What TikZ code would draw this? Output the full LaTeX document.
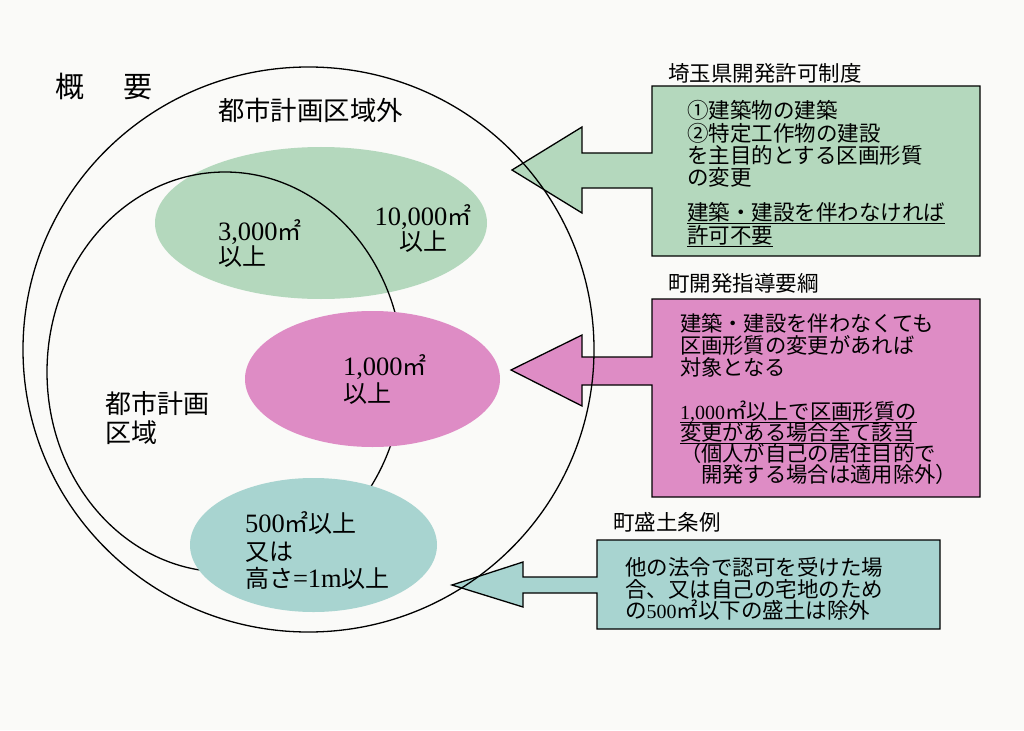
\documentclass[tikz,border=0pt]{standalone}
\usepackage{fontspec}
\setmainfont{Noto Sans CJK JP}
\newfontfamily\serifnum{Liberation Serif}
\usetikzlibrary{shapes.geometric}
\definecolor{bg}{RGB}{250,250,248}
\definecolor{lgreen}{RGB}{180,216,189}
\definecolor{lpink}{RGB}{222,140,197}
\definecolor{lteal}{RGB}{168,212,208}
\newcommand\nmL[1]{{\serifnum\fontsize{26.5}{26.5}\selectfont #1}}
\newcommand\nmB[1]{{\serifnum\fontsize{20}{20}\selectfont #1}}
\newcommand\fs[2]{\fontsize{#1}{#2}\selectfont\lineskiplimit=-100pt\relax}
\newsavebox\ulbox
\newcommand\ulc[1]{\sbox\ulbox{#1}\rlap{\rule[-3.2pt]{\wd\ulbox}{0.8pt}}\usebox\ulbox}
\begin{document}
\begin{tikzpicture}[x=1pt,y=-1pt,
  callout/.style={draw=black, line width=1.3pt, line join=miter},
  ring/.style={ellipse, draw=black, line width=1.3pt, inner sep=0, fill=none},
  blob/.style={ellipse, draw=none, inner sep=0},
  txt/.style={inner sep=0, outer sep=0, align=left, text=black},
]
\fill[bg] (0,0) rectangle (1024,730);
\useasboundingbox (0,0) rectangle (1024,730);

% callout boxes with block arrows
\draw[callout, fill=lgreen] (652,86) -- (980,86) -- (980,256) -- (652,256) -- (652,188) -- (582,188) -- (582,213) -- (512,170) -- (582,127) -- (582,153) -- (652,153) -- cycle;
\draw[callout, fill=lpink] (652,299) -- (980,299) -- (980,497) -- (652,497) -- (652,385) -- (582,385) -- (582,406) -- (511,370) -- (582,335) -- (582,357) -- (652,357) -- cycle;
\draw[callout, fill=lteal] (597,540) -- (940,540) -- (940,629) -- (597,629) -- (597,593) -- (523,593) -- (523,607) -- (452,585) -- (523,562) -- (523,577) -- (597,577) -- cycle;

% titles
\node[txt, anchor=west, font=\fs{29}{29}] (gaiyo) at (55,87) {概\hspace{40pt}要};
\node[txt, anchor=west, font=\fs{26.4}{26.4}] (outside) at (218,110) {都市計画区域外};
\node[txt, anchor=north west, font=\fs{26}{29}] (inside) at (105,391.5) {都市計画\\区域};

\node[txt, anchor=west, font=\fs{21.5}{21.5}] (t1) at (668,73) {埼玉県開発許可制度};
\node[txt, anchor=north west, font=\fs{21.5}{22.4}] (b1) at (687,100.5) {①建築物の建築\\②特定工作物の建設\\を主目的とする区画形質\\の変更\\[12.5pt]\ulc{建築・建設を伴わなければ}\\\ulc{許可不要}};

\node[txt, anchor=west, font=\fs{21.5}{21.5}] (t2) at (668,283) {町開発指導要綱};
\node[txt, anchor=north west, font=\fs{21.3}{22}] (b2a) at (680,313.5) {建築・建設を伴わなくても\\区画形質の変更があれば\\対象となる};
\node[txt, anchor=north west, font=\fs{21.3}{21}] (b2b) at (680,401) {\ulc{\nmB{1,000}㎡以上で区画形質の}\\\ulc{変更がある場合全て該当}\\（個人が自己の居住目的で\\　開発する場合は適用除外）};

\node[txt, anchor=west, font=\fs{21.5}{21.5}] (t3) at (613,522) {町盛土条例};
\node[txt, anchor=north west, font=\fs{21.5}{21.5}] (b3) at (625,557.5) {他の法令で認可を受けた場\\合、又は自己の宅地のため\\の\nmB{500}㎡以下の盛土は除外};

% areas
\node[blob, fill=lgreen, minimum width=332pt, minimum height=152pt] (gre) at (321,223) {};
\node[ring, minimum width=571pt, minimum height=565pt] (outer) at (308.5,349.5) {};
\node[ring, minimum width=356pt, minimum height=400pt] (inner) at (225,372) {};
\node[blob, fill=lpink, minimum width=255pt, minimum height=136pt] (pke) at (372.5,379) {};
\node[blob, fill=lteal, minimum width=247pt, minimum height=134pt] (ble) at (313.5,545) {};

% area labels
\node[txt, anchor=north west, font=\fs{24}{25}] (g3000) at (218,220) {\nmL{3,000}㎡\\以上};
\node[txt, anchor=north, align=center, font=\fs{24}{25}] (g10000) at (423,205) {\nmL{10,000}㎡\\以上};
\node[txt, anchor=north west, font=\fs{24}{27}] (p1000) at (343,355) {\nmL{1,000}㎡\\以上};
\node[txt, anchor=north west, font=\fs{24}{27.3}] (b500) at (245,512) {\nmL{500}㎡以上\\又は\\高さ\nmL{=1m}以上};
\end{tikzpicture}
\end{document}
